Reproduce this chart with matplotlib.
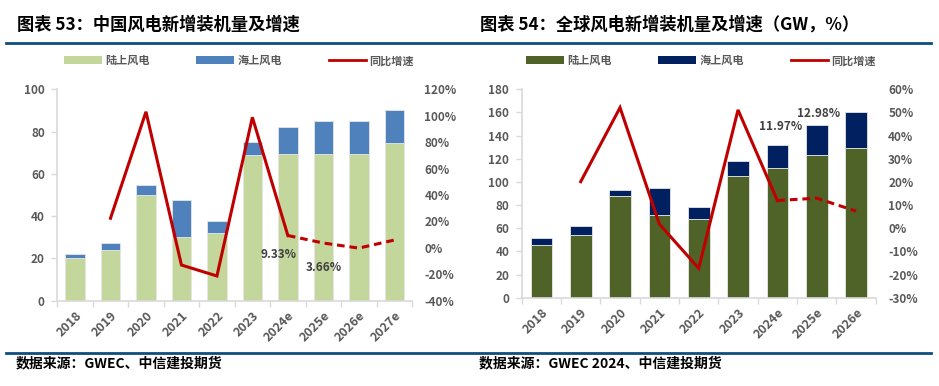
import matplotlib
matplotlib.use("Agg")
import matplotlib.pyplot as plt
from matplotlib.lines import Line2D
from matplotlib.patches import Patch
import numpy as np

plt.rcParams['font.family'] = ['Noto Sans CJK SC', 'DejaVu Sans']

# ---------------- data ----------------
cn_years = ["2018", "2019", "2020", "2021", "2022", "2023", "2024e", "2025e", "2026e", "2027e"]
cn_onshore = [20.0, 23.8, 50.0, 30.3, 32.0, 69.0, 69.3, 69.3, 69.3, 74.5]
cn_offshore = [2.0, 3.3, 4.6, 17.5, 5.8, 6.3, 13.0, 15.8, 15.8, 15.7]
cn_growth = [np.nan, 22.4, 103.0, -13.0, -21.3, 98.8, 9.33, 3.66, -0.2, 5.9]
cn_labels = {6: "9.33%", 7: "3.66%"}

gl_years = ["2018", "2019", "2020", "2021", "2022", "2023", "2024e", "2025e", "2026e"]
gl_onshore = [45.5, 53.9, 87.8, 71.7, 68.0, 105.4, 112.3, 123.2, 129.3]
gl_offshore = [5.8, 7.8, 5.2, 22.8, 10.6, 12.4, 19.6, 25.7, 30.8]
gl_growth = [np.nan, 20.1, 52.1, 1.8, -17.3, 51.1, 11.97, 12.98, 7.4]
gl_labels = {6: "11.97%", 7: "12.98%"}

legend_names = ["陆上风电", "海上风电", "同比增速"]
title1 = "图表 53：中国风电新增装机量及增速"
title2 = "图表 54：全球风电新增装机量及增速（GW，%）"
source1 = "数据来源：GWEC、中信建投期货"
source2 = "数据来源：GWEC 2024、中信建投期货"

W, H = 939, 386
fig = plt.figure(figsize=(W / 100, H / 100), dpi=100)

TICK_COLOR = "#595959"
SPINE = "#D9D9D9"
RED = "#C00000"


def px(x0, y0, x1, y1):
    return [x0 / W, 1 - y1 / H, (x1 - x0) / W, (y1 - y0) / H]


def make_chart(rect, years, on, off, growth, labels, on_color, off_color,
               ylim, yticks, rlim, rticks, label_offsets):
    ax = fig.add_axes(rect)
    n = len(years)
    x = np.arange(n)
    ax.bar(x, on, width=0.55, color=on_color, edgecolor="#E6E6E6", linewidth=0.6, zorder=2)
    ax.bar(x, off, bottom=on, width=0.55, color=off_color, edgecolor="#E6E6E6", linewidth=0.6, zorder=2)
    ax.set_xlim(-0.5, n - 0.5)
    ax.set_ylim(*ylim)
    ax.set_yticks(yticks)
    ax.set_xticks(x)
    ax.set_xticks(np.arange(-0.5, n, 1.0), minor=True)
    ax.set_xticklabels(years, rotation=45, ha="right", rotation_mode="anchor",
                       fontsize=9, fontweight="bold", color=TICK_COLOR)
    ax.tick_params(axis="x", which="major", length=0, pad=6)
    ax.tick_params(axis="x", which="minor", length=4, color=SPINE, width=1)
    ax.tick_params(axis="y", length=4, color=SPINE, width=1, pad=5,
                   labelsize=8.5, labelcolor=TICK_COLOR)
    for lab in ax.get_yticklabels():
        lab.set_fontweight("bold")
    for s in ["top", "right"]:
        ax.spines[s].set_visible(False)
    for s in ["left", "bottom"]:
        ax.spines[s].set_color(SPINE)
        ax.spines[s].set_linewidth(1.2)

    axr = ax.twinx()
    axr.set_ylim(*rlim)
    axr.set_yticks(rticks)
    axr.set_yticklabels([f"{t}%" for t in rticks], fontsize=8.5,
                        fontweight="bold", color=TICK_COLOR)
    axr.tick_params(axis="y", length=0, pad=9)
    for s in axr.spines.values():
        s.set_visible(False)
    g = np.array(growth, dtype=float)
    axr.plot(x[1:7], g[1:7], color=RED, lw=2.2, solid_joinstyle="miter", zorder=3)
    axr.plot(x[6:], g[6:], color=RED, lw=2.2, linestyle=(0, (2.5, 1.6)), zorder=3)
    for i, txt in labels.items():
        dx, dy = label_offsets[i]
        axr.annotate(txt, xy=(x[i], g[i]), xytext=(dx, dy), textcoords="offset points",
                     ha="center", va="center", fontsize=8.5, fontweight="bold",
                     color="#404040")
    return ax, axr


make_chart(px(57.3, 89.3, 412, 300.7), cn_years, cn_onshore, cn_offshore, cn_growth,
           cn_labels, "#C3D69B", "#4F81BD", (0, 100), range(0, 101, 20),
           (-40, 120), list(range(-40, 121, 20)), {6: (-7, -14), 7: (0, -17.5)})

make_chart(px(521.7, 89.3, 875.7, 297.7), gl_years, gl_onshore, gl_offshore, gl_growth,
           gl_labels, "#4F6228", "#002060", (0, 180), range(0, 181, 20),
           (-30, 60), list(range(-30, 61, 10)), {6: (2, 53), 7: (1, 61)})

# legends
for (x0, c_on, c_off) in [(64, "#C3D69B", "#4F81BD"), (526, "#4F6228", "#002060")]:
    handles = [Patch(facecolor=c_on, edgecolor="none"),
               Patch(facecolor=c_off, edgecolor="none"),
               Line2D([], [], color=RED, lw=2)]
    leg = fig.legend(handles, legend_names, loc="center left",
                     bbox_to_anchor=(x0 / W, 1 - 60.7 / H), ncol=3, frameon=False,
                     fontsize=8, handlelength=3.4, handleheight=0.7, handletextpad=0.3,
                     columnspacing=4.2, borderpad=0, borderaxespad=0)
    for t in leg.get_texts():
        t.set_fontweight("bold")
        t.set_color(TICK_COLOR)

# titles and rules
fig.text(17 / W, 1 - 25 / H, title1, fontsize=12.4, fontweight="bold", va="center", ha="left", color="black")
fig.text(480 / W, 1 - 25 / H, title2, fontsize=12.4, fontweight="bold", va="center", ha="left", color="black")
RULE = "#0E4D7E"
fig.add_artist(Line2D([6 / W, 931 / W], [1 - 42.7 / H] * 2, color=RULE, lw=2))
fig.add_artist(Line2D([6 / W, 931 / W], [1 - 352.7 / H] * 2, color=RULE, lw=2))
fig.text(16 / W, 1 - 363 / H, source1, fontsize=10, fontweight="bold", va="center", ha="left", color="black")
fig.text(479 / W, 1 - 363 / H, source2, fontsize=10, fontweight="bold", va="center", ha="left", color="black")

fig.savefig("out.png", dpi=100)
